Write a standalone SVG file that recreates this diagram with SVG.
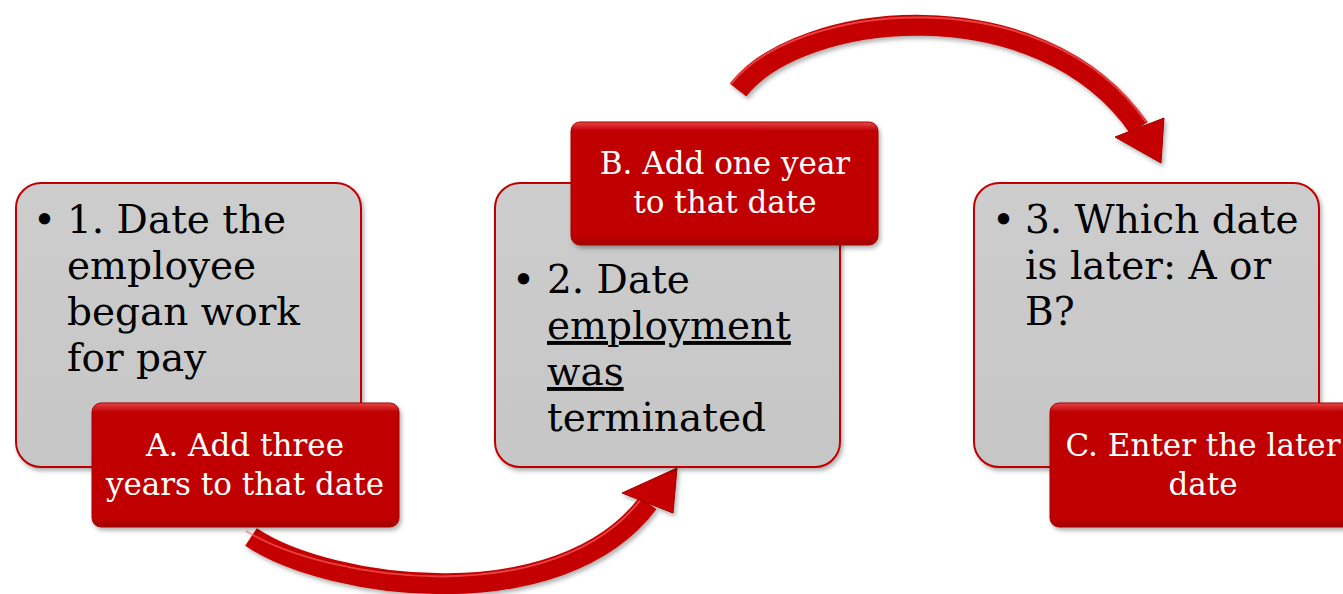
<svg xmlns="http://www.w3.org/2000/svg" width="1343" height="594" viewBox="0 0 1343 594">
<style>
.gbox{fill:url(#gGray);stroke:#c00000;stroke-width:2;filter:url(#sh)}
.rbox{fill:url(#gRed);stroke:#a80000;stroke-width:1;filter:url(#sh)}
.main{font-family:"DejaVu Serif","Liberation Serif",serif;font-size:39px;fill:#000}
.lab{font-family:"DejaVu Serif","Liberation Serif",serif;font-size:31px;fill:#fff;text-anchor:middle}
.arrow{fill:none;stroke:#c40000;stroke-width:21;stroke-linecap:butt}
.hl{fill:none;stroke:#ff6a6a;stroke-width:2;stroke-opacity:0.6}
.head{fill:#c40000;stroke:#a00000;stroke-width:1}
</style>
<defs>
<filter id="sh" x="-10%" y="-10%" width="125%" height="125%">
<feDropShadow dx="2" dy="3" stdDeviation="2" flood-color="#000" flood-opacity="0.3"/>
</filter>
<linearGradient id="gGray" x1="0" y1="0" x2="0" y2="1">
<stop offset="0" stop-color="#cdcdcd"/>
<stop offset="1" stop-color="#c6c6c6"/>
</linearGradient>
<linearGradient id="gRed" x1="0" y1="0" x2="0" y2="1">
<stop offset="0" stop-color="#e8474a"/>
<stop offset="0.07" stop-color="#c00000"/>
<stop offset="0.93" stop-color="#c00000"/>
<stop offset="1" stop-color="#a00000"/>
</linearGradient>
</defs>
<rect width="1343" height="594" fill="#fff"/>

<g id="connectors">
<g id="arrow-bottom" filter="url(#sh)">
<path class="arrow" d="M251 537 C330 590 560 620 648 503"/>
<path class="hl" d="M246 531 C330 582 556 612 642 498"/>
<polygon class="head" points="677,468 622,493 673,513"/>
</g>
<g id="arrow-top" filter="url(#sh)">
<path class="arrow" d="M738 90 C800 10 1040 -15 1139 128"/>
<path class="hl" d="M731 84 C795 2 1045 -24 1146 122"/>
<polygon class="head" points="1115,137 1164,118 1161,163"/>
</g>
</g>

<g id="node1">
<rect class="gbox" x="16" y="183" width="345" height="284" rx="25"/>
<text class="main" x="33" y="233">•</text>
<text class="main" x="67" y="233">1. Date the</text>
<text class="main" x="67" y="279">employee</text>
<text class="main" x="67" y="325">began work</text>
<text class="main" x="67" y="371">for pay</text>
</g>
<g id="nodeA">
<rect class="rbox" x="92" y="403" width="307" height="124" rx="9"/>
<text class="lab" x="245" y="456">A. Add three</text>
<text class="lab" x="245" y="495">years to that date</text>
</g>

<g id="node2">
<rect class="gbox" x="495" y="183" width="345" height="284" rx="25"/>
<text class="main" x="512" y="293">•</text>
<text class="main" x="547" y="293">2. Date</text>
<text class="main" x="547" y="339" text-decoration="underline">employment</text>
<text class="main" x="547" y="385" text-decoration="underline">was</text>
<text class="main" x="547" y="431">terminated</text>
</g>
<g id="nodeB">
<rect class="rbox" x="571" y="122" width="307" height="123" rx="9"/>
<text class="lab" x="725" y="174">B. Add one year</text>
<text class="lab" x="725" y="213">to that date</text>
</g>

<g id="node3">
<rect class="gbox" x="974" y="183" width="345" height="284" rx="25"/>
<text class="main" x="992" y="233">•</text>
<text class="main" x="1025" y="233">3. Which date</text>
<text class="main" x="1025" y="279">is later: A or</text>
<text class="main" x="1025" y="325">B?</text>
</g>
<g id="nodeC">
<rect class="rbox" x="1050" y="403" width="307" height="124" rx="9"/>
<text class="lab" x="1203" y="456">C. Enter the later</text>
<text class="lab" x="1203" y="495">date</text>
</g>
</svg>
